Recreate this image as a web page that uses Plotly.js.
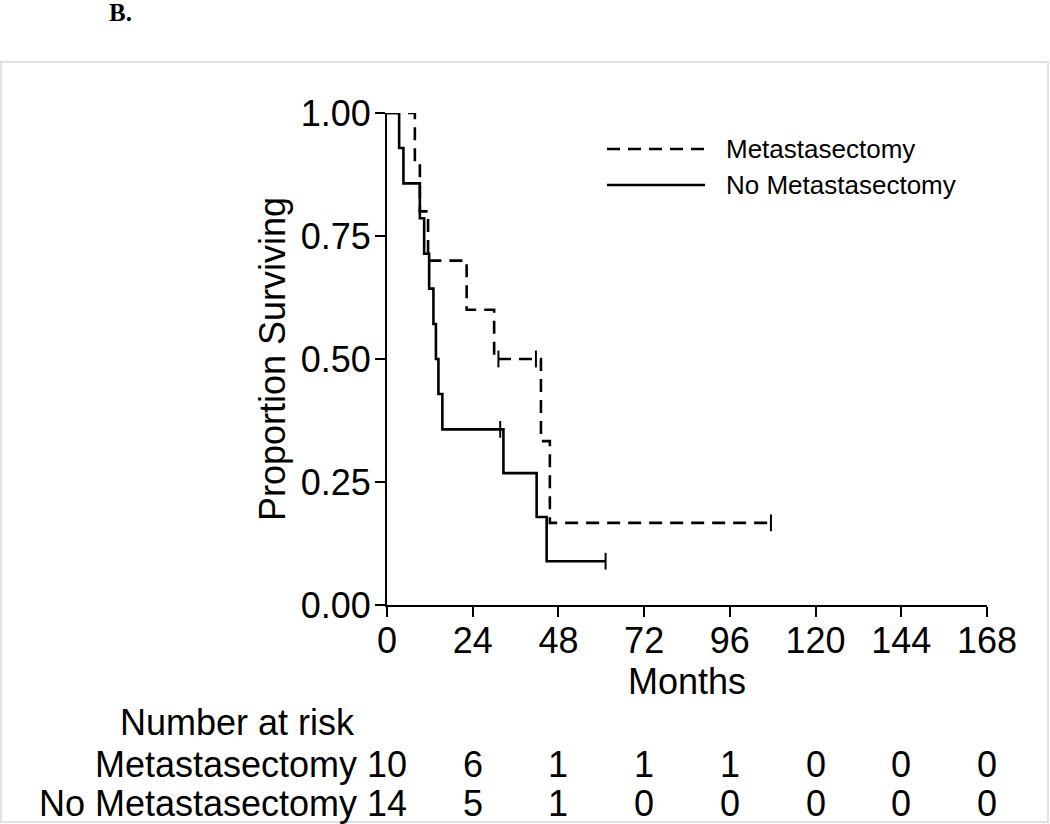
<!DOCTYPE html>
<html>
<head>
<meta charset="utf-8">
<script src="https://cdn.plot.ly/plotly-3.0.1.min.js"></script>
<style>html,body{margin:0;padding:0;background:#fff;}#chart{width:1050px;height:824px;}</style>
</head>
<body>
<div id="chart"></div>
<script>
// ---- Data ----
const groupNames = ["Metastasectomy", "No Metastasectomy"];

// Metastasectomy (dashed): event times (months) and survival after each step
const metTimes = [0, 7.8, 9.2, 11.5, 22.3, 30.0, 43.1, 45.6];
const metSurv  = [1.0, 0.9, 0.8, 0.7, 0.6, 0.5, 0.333, 0.167];
const metCensorTimes = [31.2, 41.7, 107.5];
const metCensorSurv  = [0.5, 0.5, 0.167];

// No Metastasectomy (solid)
const noTimes = [0, 3.4, 4.6, 9.2, 10.4, 11.8, 13.0, 13.7, 14.4, 15.5, 32.6, 41.9, 44.7];
const noSurv  = [1.0, 0.929, 0.857, 0.786, 0.714, 0.643, 0.571, 0.5, 0.429, 0.357, 0.268, 0.179, 0.089];
const noCensorTimes = [31.7, 61.2];
const noCensorSurv  = [0.357, 0.089];

// Axis ticks
const xTicks = [0, 24, 48, 72, 96, 120, 144, 168];
const yTicks = [0, 0.25, 0.5, 0.75, 1.0];
const yTickText = ["0.00", "0.25", "0.50", "0.75", "1.00"];

// Number at risk
const riskMet = [10, 6, 1, 1, 1, 0, 0, 0];
const riskNo  = [14, 5, 1, 0, 0, 0, 0, 0];

// ---- Layout helpers (pixel placement) ----
const W = 1050, H = 824;
const M = {l: 387, r: 63, t: 113, b: 219};
const PW = W - M.l - M.r, PH = H - M.t - M.b;
const px = x => (x - M.l) / PW;
const py = y => (M.t + PH - y) / PH;
const FONT = "Liberation Sans, Arial, Helvetica, sans-serif";

function stepX(times, cens) { return times.concat([Math.max(...cens)]); }
function stepY(surv) { return surv.concat([surv[surv.length - 1]]); }

const censorMarker = {symbol: "line-ns-open", size: 12, color: "#000", line: {color: "#000", width: 2}};
const traces = [
  {x: stepX(metTimes, metCensorTimes), y: stepY(metSurv), mode: "lines", line: {shape: "hv", color: "#000", width: 2.6, dash: "13px,8px"}, cliponaxis: false, hoverinfo: "skip", name: groupNames[0]},
  {x: stepX(noTimes, noCensorTimes), y: stepY(noSurv), mode: "lines", line: {shape: "hv", color: "#000", width: 2.6}, cliponaxis: false, hoverinfo: "skip", name: groupNames[1]},
  {x: metCensorTimes, y: metCensorSurv, mode: "markers", marker: censorMarker, cliponaxis: false, hoverinfo: "skip"},
  {x: noCensorTimes, y: noCensorSurv, mode: "markers", marker: censorMarker, cliponaxis: false, hoverinfo: "skip"}
];

const annotations = [];
const shapes = [];

// Panel label
annotations.push({xref: "paper", yref: "paper", x: px(107), y: py(13), xanchor: "left", yanchor: "middle", showarrow: false, text: "<b>B.</b>", font: {family: "Liberation Serif, Times New Roman, serif", size: 25, color: "#000"}});

// Legend (manual)
const legY = [149, 185];
const legDash = ["13px,8px", "solid"];
for (let i = 0; i < 2; i++) {
  shapes.push({type: "line", xref: "paper", yref: "paper", x0: px(607), x1: px(705), y0: py(legY[i]), y1: py(legY[i]), line: {color: "#000", width: 2.6, dash: legDash[i]}});
  annotations.push({xref: "paper", yref: "paper", x: px(724), y: py(legY[i]), xanchor: "left", yanchor: "middle", showarrow: false, text: groupNames[i], font: {family: FONT, size: 26, color: "#000"}});
}

// Number at risk table
annotations.push({xref: "paper", yref: "paper", x: px(357), y: py(722), xanchor: "right", yanchor: "middle", showarrow: false, text: "Number at risk", font: {family: FONT, size: 36, color: "#000"}});
const rowY = [764, 803];
const rows = [riskMet, riskNo];
for (let r = 0; r < 2; r++) {
  annotations.push({xref: "paper", yref: "paper", x: px(359), y: py(rowY[r]), xanchor: "right", yanchor: "middle", showarrow: false, text: groupNames[r], font: {family: FONT, size: 36, color: "#000"}});
  rows[r].forEach((v, j) => {
    annotations.push({xref: "x", yref: "paper", x: xTicks[j], y: py(rowY[r]), xanchor: "center", yanchor: "middle", showarrow: false, text: String(v), font: {family: FONT, size: 36, color: "#000"}});
  });
}

// Outer frame
shapes.push({type: "rect", xref: "paper", yref: "paper", x0: px(1), x1: px(1048), y0: py(62), y1: py(822), line: {color: "#e2e2e2", width: 2}, layer: "below"});

const layout = {
  width: W, height: H,
  margin: M,
  paper_bgcolor: "#fff", plot_bgcolor: "#fff",
  showlegend: false,
  font: {family: FONT, color: "#000", size: 36},
  xaxis: {
    range: [0, 168], tickvals: xTicks, ticktext: xTicks.map(String),
    ticks: "outside", ticklen: 10, tickwidth: 2, tickcolor: "#000",
    ticklabelstandoff: -7,
    showline: true, linewidth: 2, linecolor: "#000",
    showgrid: false, zeroline: false, automargin: false, fixedrange: true,
    tickfont: {family: FONT, size: 36, color: "#000"},
    title: {text: "Months", font: {family: FONT, size: 36, color: "#000"}, standoff: 0}
  },
  yaxis: {
    range: [0, 1], tickvals: yTicks, ticktext: yTickText,
    ticks: "outside", ticklen: 10, tickwidth: 2, tickcolor: "#000",
    ticklabelstandoff: -3,
    showline: true, linewidth: 2, linecolor: "#000",
    showgrid: false, zeroline: false, automargin: false, fixedrange: true,
    tickfont: {family: FONT, size: 36, color: "#000"},
    title: {text: "Proportion Surviving", font: {family: FONT, size: 36, color: "#000"}, standoff: 4}
  },
  annotations: annotations,
  shapes: shapes
};

Plotly.newPlot("chart", traces, layout, {staticPlot: true, displayModeBar: false});
</script>
</body>
</html>
